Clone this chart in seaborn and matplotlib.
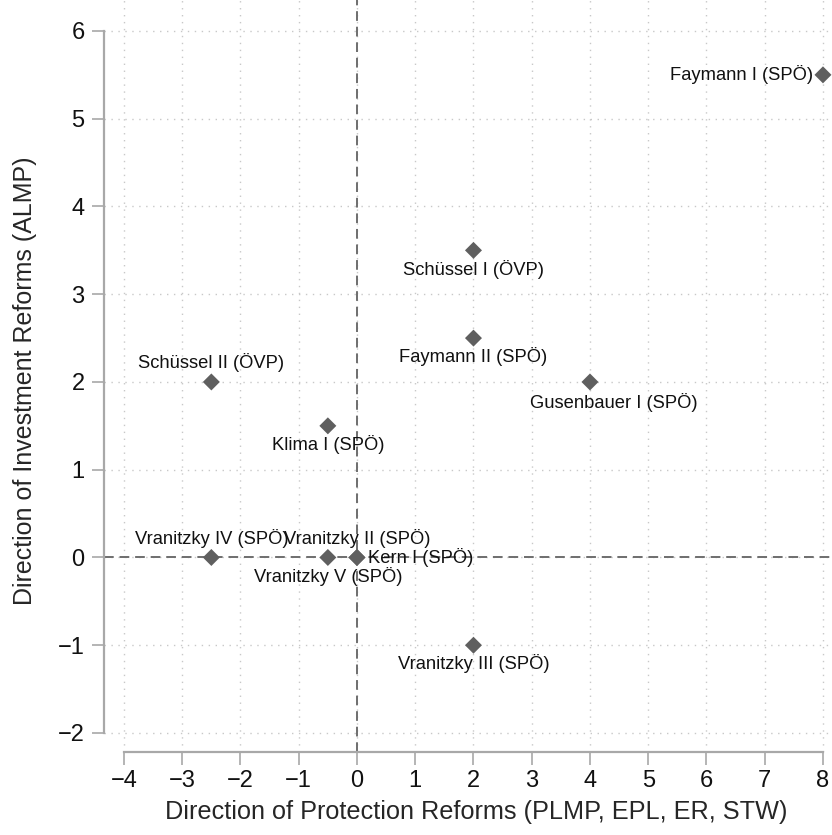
import matplotlib
matplotlib.use("Agg")
import matplotlib.pyplot as plt
import seaborn as sns
import pandas as pd

names = ["Faymann I (SPÖ)", "Schüssel I (ÖVP)", "Faymann II (SPÖ)", "Gusenbauer I (SPÖ)",
         "Schüssel II (ÖVP)", "Klima I (SPÖ)", "Vranitzky IV (SPÖ)", "Vranitzky II (SPÖ)",
         "Vranitzky V (SPÖ)", "Kern I (SPÖ)", "Vranitzky III (SPÖ)"]
protection = [8, 2, 2, 4, -2.5, -0.5, -2.5, 0, -0.5, 0, 2]
investment = [5.5, 3.5, 2.5, 2, 2, 1.5, 0, 0, 0, 0, -1]
label_pos = ["left", "below", "below", "belowright", "above", "below", "above", "above",
             "below", "right", "below"]
xticks = [-4, -3, -2, -1, 0, 1, 2, 3, 4, 5, 6, 7, 8]
yticks = [-2, -1, 0, 1, 2, 3, 4, 5, 6]

sns.set_theme(style="white")
plt.rcParams['font.family'] = ['Liberation Sans', 'DejaVu Sans']

df = pd.DataFrame({"x": protection, "y": investment, "name": names, "pos": label_pos})

fig = plt.figure(figsize=(8.32, 8.35), dpi=100)
ax = fig.add_axes([104 / 832, 83 / 835, 1 - 104 / 832, 1 - 83 / 835])

ax.set_xlim(-4.343, 8.155)
ax.set_ylim(-2.217, 6.353)

for t in xticks:
    ax.axvline(t, color="#c8c8c8", lw=1.0, ls=(0, (1, 4)), zorder=0)
for t in yticks:
    ax.axhline(t, color="#c8c8c8", lw=1.0, ls=(0, (1, 4)), zorder=0)
ax.axvline(0, color="#6e6e6e", lw=1.4, ls=(0, (5, 3)), zorder=1)
ax.axhline(0, color="#6e6e6e", lw=1.4, ls=(0, (5, 3)), zorder=1)

sns.scatterplot(data=df, x="x", y="y", marker="D", s=75, color="#5f5f5f",
                edgecolor="none", ax=ax, zorder=3)

offsets = {"left": ((-7, 0), "right"), "right": ((8, 0), "left"),
           "below": ((0, -13.5), "center"), "above": ((0, 14), "center"),
           "belowright": ((17, -14.5), "center")}
for _, r in df.iterrows():
    off, ha = offsets[r["pos"]]
    ax.annotate(r["name"], (r["x"], r["y"]), xytext=off, textcoords="offset points",
                ha=ha, va="center", fontsize=13.2, color="#111111", zorder=4)

ax.set_xticks(xticks)
ax.set_yticks(yticks)
ax.set_xticklabels([str(t).replace("-", "\u2212") for t in xticks], fontsize=17)
ax.set_yticklabels([str(t).replace("-", "\u2212") for t in yticks], fontsize=17)
ax.set_xlabel("Direction of Protection Reforms (PLMP, EPL, ER, STW)", fontsize=18.2)
ax.set_ylabel("Direction of Investment Reforms (ALMP)", fontsize=18)
ax.xaxis.set_label_coords(0.511, -0.0635)
ax.yaxis.set_label_coords(-0.092, 0.4934)

for s in ["top", "right"]:
    ax.spines[s].set_visible(False)
for s in ["left", "bottom"]:
    ax.spines[s].set_color("#a8a8a8")
    ax.spines[s].set_linewidth(1.6)
ax.spines["left"].set_bounds(-2, 6)
ax.spines["bottom"].set_bounds(-4, 8)
ax.tick_params(axis="both", which="major", direction="out", length=9, width=1.2,
               color="#a8a8a8", labelcolor="#111111", left=True, bottom=True)
ax.tick_params(axis="x", pad=4)
ax.tick_params(axis="y", pad=5)

fig.savefig("out.png", dpi=100)
